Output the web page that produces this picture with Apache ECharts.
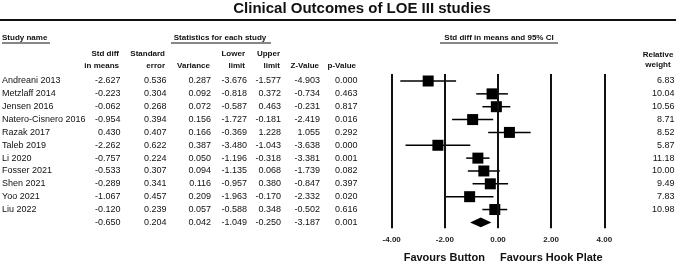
<!DOCTYPE html>
<html>
<head>
<meta charset="utf-8">
<script src="https://cdn.jsdelivr.net/npm/echarts@6/dist/echarts.min.js"></script>
<style>
html, body { margin: 0; padding: 0; background: #fff; }
#chart { width: 676px; height: 263px; }
</style>
</head>
<body>
<div id="chart"></div>
<script>
// studies, top to bottom; last row is the pooled summary
var studies = ['Andreani 2013', 'Metzlaff 2014', 'Jensen 2016', 'Natero-Cisnero 2016', 'Razak 2017',
	'Taleb 2019', 'Li 2020', 'Fosser 2021', 'Shen 2021', 'Yoo 2021', 'Liu 2022', ''];
var stdDiff = [-2.627, -0.223, -0.062, -0.954, 0.430, -2.262, -0.757, -0.533, -0.289, -1.067, -0.120, -0.650];
var stdErr = [0.536, 0.304, 0.268, 0.394, 0.407, 0.622, 0.224, 0.307, 0.341, 0.457, 0.239, 0.204];
var variance = [0.287, 0.092, 0.072, 0.156, 0.166, 0.387, 0.050, 0.094, 0.116, 0.209, 0.057, 0.042];
var lowerLimit = [-3.676, -0.818, -0.587, -1.727, -0.369, -3.480, -1.196, -1.135, -0.957, -1.963, -0.588, -1.049];
var upperLimit = [-1.577, 0.372, 0.463, -0.181, 1.228, -1.043, -0.318, 0.068, 0.380, -0.170, 0.348, -0.250];
var zValue = [-4.903, -0.734, -0.231, -2.419, 1.055, -3.638, -3.381, -1.739, -0.847, -2.332, -0.502, -3.187];
var pValue = [0.000, 0.463, 0.817, 0.016, 0.292, 0.000, 0.001, 0.082, 0.397, 0.020, 0.616, 0.001];
var relWeight = [6.83, 10.04, 10.56, 8.71, 8.52, 5.87, 11.18, 10.00, 9.49, 7.83, 10.98, null];
var axisTicks = [-4, -2, 0, 2, 4];

var summaryRow = studies.length - 1;
var font = '"Liberation Sans", Arial, sans-serif';

// table rows: [row, name, sd, se, var, lower, upper, z, p, weight]
var tableRows = [];
var studyPoints = [];
var ciRows = [];
for (var i = 0; i < studies.length; i++)
{
	tableRows.push([i, studies[i], stdDiff[i].toFixed(3), stdErr[i].toFixed(3), variance[i].toFixed(3),
		lowerLimit[i].toFixed(3), upperLimit[i].toFixed(3), zValue[i].toFixed(3), pValue[i].toFixed(3),
		relWeight[i] == null ? '' : relWeight[i].toFixed(2)]);
	if (i < summaryRow)
	{
		studyPoints.push([stdDiff[i], i]);
		ciRows.push([lowerLimit[i], upperLimit[i], i]);
	}
}

// right edges of the table columns (pixels), name column is left aligned
var colX = [2, 120.5, 166.5, 211, 247, 281, 320, 357.5, 674.5];

var chart = echarts.init(document.getElementById('chart'));

var yAxisBase =
{
	type: 'value',
	inverse: true,
	min: -0.545,
	max: 11.46,
	show: false
};

function headText(x, y, text, align)
{
	return {
		type: 'text', x: x, y: y,
		style: { text: text, fontFamily: font, fontSize: 8, fontWeight: 'bold', fill: '#111',
			align: align || 'right', verticalAlign: 'middle' }
	};
}

function rule(x1, x2, y, h)
{
	return { type: 'rect', shape: { x: x1, y: y, width: x2 - x1, height: h || 1 }, style: { fill: '#111' } };
}

var options =
{
	backgroundColor: '#fff',
	grid:
	[
		{ left: 391.7, right: 71.7, top: 74, height: 154.3 },
		{ left: 0, right: 0, top: 74, height: 154.3 },
		// thin band used as the rule under the title
		{ show: true, left: 0, right: 0, top: 19, height: 2, backgroundColor: '#111', borderWidth: 0 }
	],
	xAxis:
	[
		{
			type: 'value', gridIndex: 0, min: -4, max: 4, interval: 2,
			axisLine: { show: false }, axisTick: { show: false }, splitLine: { show: false },
			axisLabel:
			{
				show: true, margin: 7, showMinLabel: true, showMaxLabel: true,
				fontFamily: font, fontSize: 8, fontWeight: 'bold', color: '#222',
				formatter: function(v) { return v.toFixed(2); }
			}
		},
		{ type: 'value', gridIndex: 1, min: 0, max: 676, show: false },
		{ type: 'value', gridIndex: 2, show: false }
	],
	yAxis:
	[
		echarts.util.extend({ gridIndex: 0 }, yAxisBase),
		echarts.util.extend({ gridIndex: 1 }, yAxisBase),
		{ type: 'value', gridIndex: 2, show: false }
	],
	graphic:
	[
		{
			type: 'text', x: 362, y: 8.5,
			style: { text: 'Clinical Outcomes of LOE III studies', fontFamily: font, fontSize: 15,
				fontWeight: 'bold', fill: '#111', align: 'center', verticalAlign: 'middle' }
		},
		headText(2, 38, 'Study name', 'left'),
		rule(2, 50, 42.5),
		headText(220, 38, 'Statistics for each study', 'center'),
		rule(171, 271, 42.5),
		headText(499, 38, 'Std diff in means and 95% CI', 'center'),
		rule(440, 558, 42.5),
		headText(119, 54, 'Std diff'), headText(119, 66, 'in means'),
		headText(165, 54, 'Standard'), headText(165, 66, 'error'),
		headText(210, 66, 'Variance'),
		headText(245, 54, 'Lower'), headText(245, 66, 'limit'),
		headText(280, 54, 'Upper'), headText(280, 66, 'limit'),
		headText(319, 66, 'Z-Value'),
		headText(356, 66, 'p-Value'),
		headText(658, 55, 'Relative', 'center'), headText(658, 65, 'weight', 'center'),
		{
			type: 'text', x: 444.3, y: 258,
			style: { text: 'Favours Button', fontFamily: font, fontSize: 11, fontWeight: 'bold',
				fill: '#111', align: 'center', verticalAlign: 'middle' }
		},
		{
			type: 'text', x: 551.3, y: 258,
			style: { text: 'Favours Hook Plate', fontFamily: font, fontSize: 11, fontWeight: 'bold',
				fill: '#111', align: 'center', verticalAlign: 'middle' }
		},
		{
			// rule under the title, on its own layer
			type: 'line', zlevel: 1, z: 100,
			shape: { x1: 0, y1: 20, x2: 676, y2: 20 },
			style: { stroke: '#111', lineWidth: 2 }
		}
	],
	series:
	[
		{
			// reference lines at the axis ticks
			type: 'scatter', xAxisIndex: 0, yAxisIndex: 0, data: [], silent: true,
			markLine:
			{
				silent: true, symbol: 'none', label: { show: false }, animation: false,
				lineStyle: { color: '#111', width: 2, type: 'solid' },
				data: axisTicks.map(function(t) { return { xAxis: t }; })
			}
		},
		{
			// confidence intervals
			type: 'custom', xAxisIndex: 0, yAxisIndex: 0, data: ciRows, silent: true, animation: false,
			renderItem: function(params, api)
			{
				var p1 = api.coord([api.value(0), api.value(2)]);
				var p2 = api.coord([api.value(1), api.value(2)]);
				return {
					type: 'line',
					shape: { x1: p1[0], y1: p1[1], x2: p2[0], y2: p2[1] },
					style: { stroke: '#000', lineWidth: 1.5 }
				};
			}
		},
		{
			// study estimates
			type: 'scatter', xAxisIndex: 0, yAxisIndex: 0, data: studyPoints, silent: true, animation: false,
			symbol: 'rect', symbolSize: 11,
			itemStyle: { color: '#000', opacity: 1 }
		},
		{
			// pooled estimate diamond
			type: 'custom', xAxisIndex: 0, yAxisIndex: 0, silent: true, animation: false,
			data: [[lowerLimit[summaryRow], stdDiff[summaryRow], upperLimit[summaryRow], summaryRow]],
			renderItem: function(params, api)
			{
				var l = api.coord([api.value(0), api.value(3)]);
				var m = api.coord([api.value(1), api.value(3)]);
				var r = api.coord([api.value(2), api.value(3)]);
				var h = 4.8;
				return {
					type: 'polygon',
					shape: { points: [[l[0], l[1]], [m[0], m[1] - h], [r[0], r[1]], [m[0], m[1] + h]] },
					style: { fill: '#000' }
				};
			}
		},
		{
			// statistics table
			type: 'custom', xAxisIndex: 1, yAxisIndex: 1, data: tableRows, silent: true, animation: false,
			renderItem: function(params, api)
			{
				var row = api.value(0);
				var children = [];
				for (var c = 0; c < colX.length; c++)
				{
					var pt = api.coord([colX[c], row]);
					var raw = tableRows[params.dataIndex][c + 1];
					children.push({
						type: 'text', x: pt[0], y: pt[1],
						style: { text: raw, fontFamily: font, fontSize: 9, fill: '#111',
							align: c == 0 ? 'left' : 'right', verticalAlign: 'middle' }
					});
				}
				return { type: 'group', children: children };
			}
		}
	]
};

chart.setOption(options);
</script>
</body>
</html>
